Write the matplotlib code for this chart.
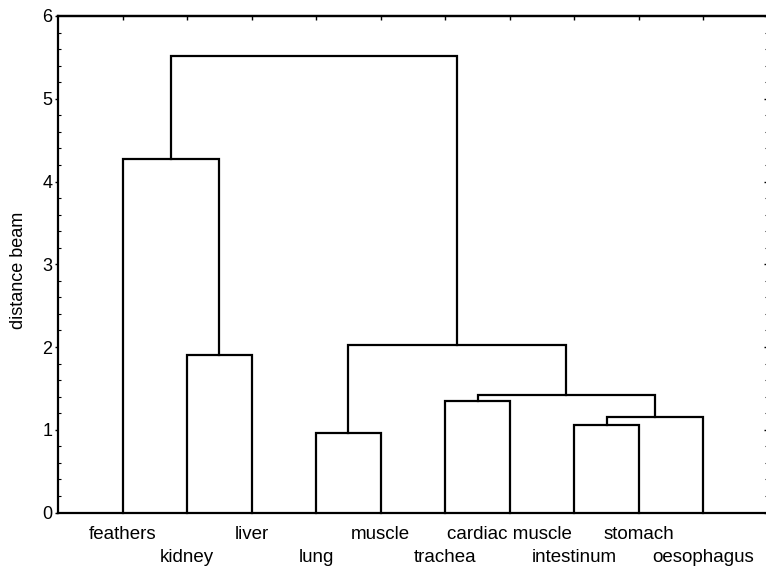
import matplotlib
matplotlib.use("Agg")
import matplotlib.pyplot as plt
from matplotlib.ticker import MultipleLocator

plt.rcParams['font.family'] = ['Liberation Sans', 'DejaVu Sans']

# Leaves in dendrogram order
leaves = ["feathers", "kidney", "liver", "lung", "muscle", "trachea",
          "cardiac muscle", "intestinum", "stomach", "oesophagus"]
# Merges: (left cluster id, right cluster id, linkage distance); new ids start at len(leaves)
merge_left = [1, 0, 3, 5, 7, 14, 13, 12, 11]
merge_right = [2, 10, 4, 6, 8, 9, 15, 16, 17]
merge_height = [1.90, 4.27, 0.965, 1.35, 1.055, 1.16, 1.415, 2.025, 5.52]
yticks = [0, 1, 2, 3, 4, 5, 6]
ylabel = "distance beam"

W, H = 766, 569
fig = plt.figure(figsize=(W / 100, H / 100), dpi=100)
ax = fig.add_axes([58 / W, 56.5 / H, (768 - 58) / W, (553 - 56.5) / H])

pos = {i: float(i + 1) for i in range(len(leaves))}
hgt = {i: 0.0 for i in range(len(leaves))}
nid = len(leaves)
for l, r, h in zip(merge_left, merge_right, merge_height):
    ax.plot([pos[l], pos[l], pos[r], pos[r]], [hgt[l], h, h, hgt[r]],
            color='black', lw=1.6, solid_joinstyle='miter', clip_on=False)
    pos[nid] = (pos[l] + pos[r]) / 2
    hgt[nid] = h
    nid += 1

ax.set_xlim(0, len(leaves) + 1)
ax.set_ylim(0, 6)
ax.set_yticks(yticks)
ax.yaxis.set_minor_locator(MultipleLocator(0.2))
ax.set_xticks([])
for s in ax.spines.values():
    s.set_linewidth(1.6)

ax.tick_params(axis='y', which='major', direction='out', length=2.5, width=1,
               labelsize=13, pad=1.5)
ax.tick_params(axis='y', which='minor', direction='in', length=2, width=0.8)

# right side ticks (inward)
axr = ax.secondary_yaxis('right')
axr.set_yticks(yticks)
axr.yaxis.set_minor_locator(MultipleLocator(0.2))
axr.tick_params(which='major', direction='in', length=3, width=1, labelright=False)
axr.tick_params(which='minor', direction='in', length=2, width=0.8)
axr.spines['right'].set_linewidth(1.6)

# top ticks (inward) at leaf positions
axt = ax.secondary_xaxis('top')
axt.set_xticks([i + 1 for i in range(len(leaves))])
axt.tick_params(direction='in', length=3, width=1, labeltop=False)
axt.spines['top'].set_linewidth(1.6)

# staggered leaf labels
for i, name in enumerate(leaves):
    off = -19.1 if i % 2 == 0 else -35.6
    ax.annotate(name, xy=(i + 1, 0), xycoords=('data', 'axes fraction'),
                xytext=(0, off), textcoords='offset points',
                ha='center', va='baseline', fontsize=13.5, annotation_clip=False)

ax.set_ylabel(ylabel, fontsize=13)
ax.yaxis.set_label_coords(-0.0437, 0.488)

fig.savefig("out.png", dpi=100)
